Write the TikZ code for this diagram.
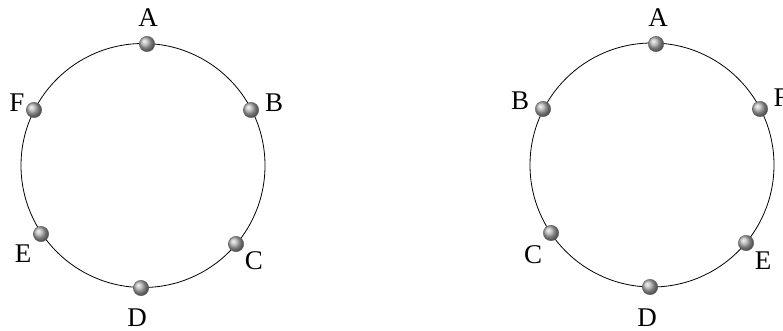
\documentclass[tikz,border=0pt]{standalone}
\usepackage{fontspec}
\setmainfont{Liberation Serif}
\begin{document}
\begin{tikzpicture}[x=1pt,y=-1pt,
  ball/.style={circle,minimum size=15.5pt,inner sep=0pt,shading=ball,ball color=gray!60,draw=gray!70!black,line width=0.3pt},
  lbl/.style={inner sep=0pt,font=\fontsize{27}{27}\selectfont},
  ring/.style={draw=black,line width=0.8pt}]
\useasboundingbox (0,0) rectangle (783,331);
% left ring
\coordinate (Lc) at (143,165.5);
\draw[ring] (Lc) circle[radius=122];
\node[ball] (LA) at (147,44) {};
\node[ball] (LB) at (251,110) {};
\node[ball] (LC) at (236,244) {};
\node[ball] (LD) at (141,288) {};
\node[ball] (LE) at (41,234) {};
\node[ball] (LF) at (34,110) {};
\node[lbl] (tLA) at (148,18) {A};
\node[lbl] (tLB) at (274,103) {B};
\node[lbl] (tLC) at (254,261) {C};
\node[lbl] (tLD) at (137,318) {D};
\node[lbl] (tLE) at (23,254) {E};
\node[lbl] (tLF) at (17,103) {F};
% right ring
\coordinate (Rc) at (652,165);
\draw[ring] (Rc) circle[radius=122];
\node[ball] (RA) at (656,44) {};
\node[ball] (RB) at (543,109) {};
\node[ball] (RC) at (551,233) {};
\node[ball] (RD) at (650,287) {};
\node[ball] (RE) at (746,243) {};
\node[ball] (RF) at (760,109) {};
\node[lbl] (tRA) at (658,18) {A};
\node[lbl] (tRB) at (520,101) {B};
\node[lbl] (tRC) at (533,254.5) {C};
\node[lbl] (tRD) at (647,318) {D};
\node[lbl] (tRE) at (763,261) {E};
\node[lbl] (tRF) at (781,98) {F};
\end{tikzpicture}
\end{document}
